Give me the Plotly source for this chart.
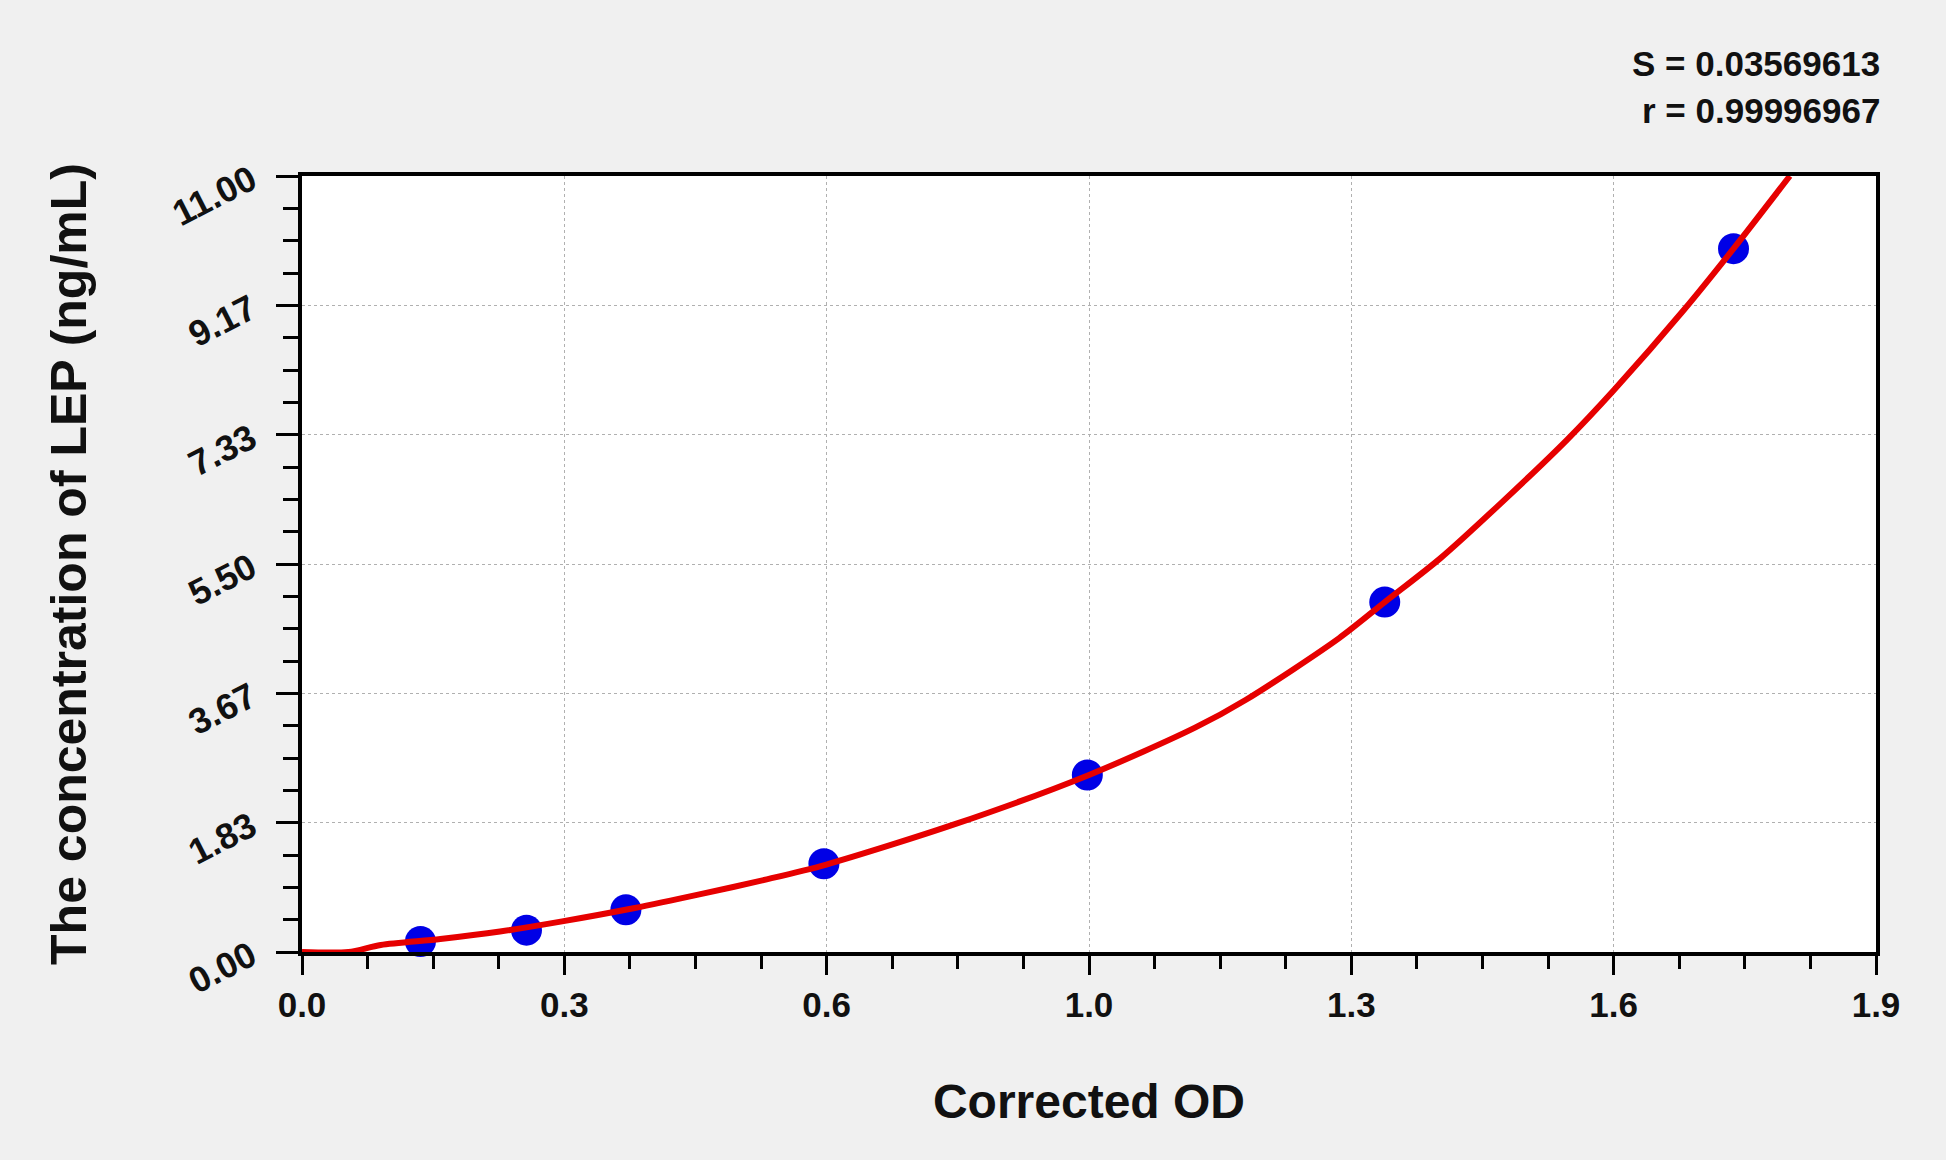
import plotly.graph_objects as go

# Standard points (Corrected OD vs concentration)
od_values = [0.143, 0.271, 0.391, 0.630, 0.948, 1.307, 1.728]
conc_values = [0.15, 0.31, 0.60, 1.25, 2.51, 4.96, 9.97]

# Fitted curve
curve_od = [0.0, 0.056, 0.095, 0.167, 0.239, 0.314, 0.400, 0.481, 0.561, 0.633,
            0.789, 0.950, 1.078, 1.140, 1.252, 1.307, 1.374, 1.447, 1.527, 1.584,
            1.668, 1.728, 1.796]
curve_conc = [0.0, 0.0, 0.10, 0.184, 0.29, 0.434, 0.62, 0.82, 1.03, 1.24,
              1.815, 2.51, 3.18, 3.58, 4.45, 4.96, 5.58, 6.36, 7.26, 7.97,
              9.10, 9.97, 11.0]

# Axis ticks
x_tick_vals = [0.0, 0.31667, 0.63333, 0.95, 1.26667, 1.58333, 1.9]
x_tick_text = ["0.0", "0.3", "0.6", "1.0", "1.3", "1.6", "1.9"]
y_tick_vals = [0.0, 1.83333, 3.66667, 5.5, 7.33333, 9.16667, 11.0]
y_tick_text = ["0.00", "1.83", "3.67", "5.50", "7.33", "9.17", "11.00"]

fit_s = "S = 0.03569613"
fit_r = "r = 0.99996967"

FONT = "Liberation Sans"
BLACK = "#111111"

fig = go.Figure()
fig.add_trace(go.Scatter(
    x=od_values, y=conc_values, mode="markers",
    marker=dict(size=31, color="#0000e6", line=dict(width=0)),
    showlegend=False, cliponaxis=False))
fig.add_trace(go.Scatter(
    x=curve_od, y=curve_conc, mode="lines",
    line=dict(color="#e60000", width=6, shape="spline", smoothing=0.8),
    showlegend=False))

axis_common = dict(
    showline=True, linewidth=3.5, linecolor="black", mirror=True,
    ticks="outside", tickwidth=3, tickcolor="black",
    showgrid=True, gridcolor="#b0b0b0", griddash="dot", gridwidth=1,
    zeroline=False, automargin=False,
)

fig.update_layout(
    width=1946, height=1160,
    paper_bgcolor="#f0f0f0", plot_bgcolor="white",
    margin=dict(l=302, r=70, t=176, b=208),
    xaxis=dict(
        range=[0, 1.9], tickmode="array", tickvals=x_tick_vals, ticktext=x_tick_text,
        ticklen=19,
        tickfont=dict(family=FONT, size=35, color=BLACK, weight="bold"),
        minor=dict(dtick=1.9 / 24, tick0=0, ticks="outside", ticklen=13,
                   tickwidth=3, tickcolor="black", showgrid=False),
        title=dict(text="Corrected OD", standoff=63,
                   font=dict(family=FONT, size=48, color=BLACK, weight="bold")),
        **axis_common),
    yaxis=dict(
        range=[0, 11], tickmode="array", tickvals=y_tick_vals, ticktext=y_tick_text,
        ticklen=22, tickangle=-27, ticklabelstandoff=18,
        tickfont=dict(family=FONT, size=36, color=BLACK, weight="bold"),
        minor=dict(dtick=11 / 24, tick0=0, ticks="outside", ticklen=15,
                   tickwidth=3, tickcolor="black", showgrid=False),
        title=dict(text="The concentration of LEP (ng/mL)", standoff=64,
                   font=dict(family=FONT, size=50, color=BLACK, weight="bold")),
        **axis_common),
)

for txt, yp in [(fit_s, 1.1447), (fit_r, 1.0838)]:
    fig.add_annotation(
        xref="paper", yref="paper", x=1.0, y=yp, xanchor="right", yanchor="middle",
        xshift=6, align="right", showarrow=False, text=txt,
        font=dict(family=FONT, size=35, color=BLACK, weight="bold"))

fig.write_html("out.html", config={"displayModeBar": False},
               post_script="document.body.style.margin='0';")
